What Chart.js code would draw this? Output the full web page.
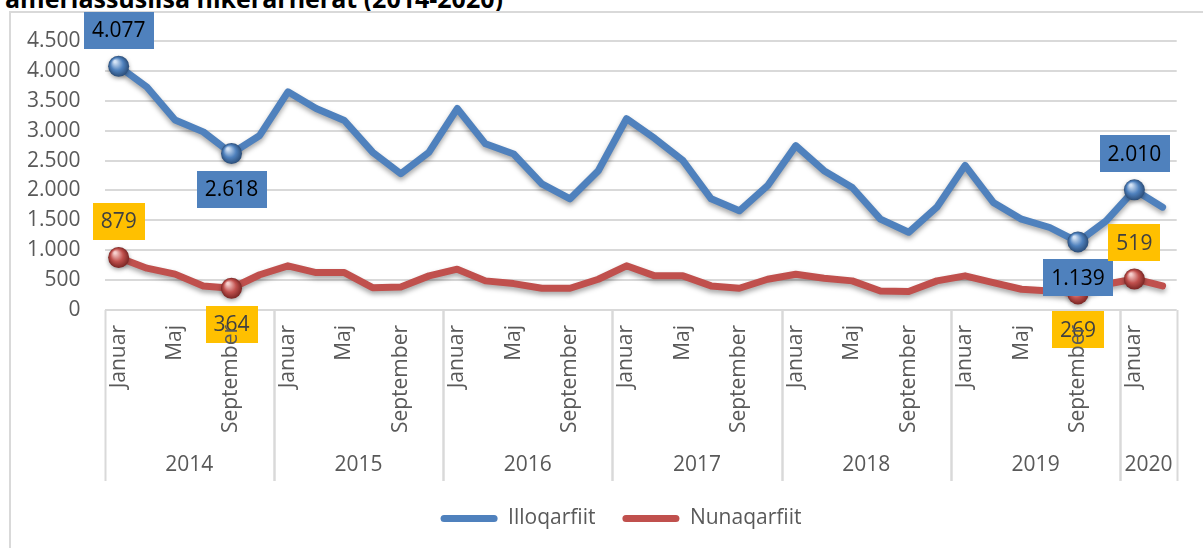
<!DOCTYPE html>
<html>
<head>
<meta charset="utf-8">
<script src="https://cdn.jsdelivr.net/npm/chart.js@4.4.1/dist/chart.umd.min.js"></script>
<style>
  html, body { margin: 0; padding: 0; background: #fff; overflow: hidden; }
  body { width: 1203px; height: 548px; position: relative; }
  #title { position: absolute; left: 5px; top: -19px; font: bold 25px "Open Sans", sans-serif; color: #000; white-space: nowrap; }
  #frame { position: absolute; left: 9px; top: 11px; width: 1400px; height: 800px; border: 2px solid #d9d9d9; }
  #c { position: absolute; left: 0; top: 0; }
</style>
</head>
<body>
<div id="title">ameriassusiisa nikerarnerat (2014-2020)</div>
<div id="frame"></div>
<canvas id="c" width="1203" height="548"></canvas>
<script>
// ─── DATA ─────────────────────────────────────────────────────────────────────
const YEARS = ['2014', '2015', '2016', '2017', '2018', '2019', '2020'];
const YEAR_POINTS = [6, 6, 6, 6, 6, 6, 2];   // bimonthly points per year
const MONTHS = ['Januar', 'Marts', 'Maj', 'Juli', 'September', 'November'];

const ILLOQARFIIT = [
  4077, 3730, 3180, 2980, 2618, 2920,
  3650, 3370, 3170, 2640, 2280, 2640,
  3370, 2780, 2610, 2110, 1860, 2330,
  3200, 2870, 2500, 1860, 1660, 2080,
  2750, 2330, 2050, 1520, 1300, 1720,
  2420, 1800, 1520, 1380, 1139, 1490,
  2010, 1720
];
const NUNAQARFIIT = [
  879, 700, 600, 403, 364, 590,
  739, 626, 626, 374, 386, 571,
  683, 487, 442, 364, 364, 515,
  739, 571, 571, 403, 364, 515,
  599, 532, 487, 319, 308, 487,
  571, 459, 347, 319, 269, 431,
  519, 403
];

// points that carry a marker + value box, and which side the box sits on (-1 above, 1 below)
const LABEL_INDEX = [0, 4, 34, 36];
const LABEL_SIDE  = [-1, 1, 1, -1];

const Y_TICKS = { min: 0, max: 4500, step: 500 };

// category labels: month of each point
const CATEGORIES = [];
YEARS.forEach((y, k) => {
  for (let m = 0; m < YEAR_POINTS[k]; m++) CATEGORIES.push(MONTHS[m]);
});

const BLUE = '#4f81bd';
const RED = '#c0504d';
const ORANGE = '#ffc000';
const GRID = '#d9d9d9';
const TEXT = '#595959';
const FONT = '"Open Sans", sans-serif';

const fmtNum = v => String(Math.round(v)).replace(/\B(?=(\d{3})+(?!\d))/g, '.');

// ─── PLUGINS ──────────────────────────────────────────────────────────────────
// line shadow like the Excel "outer shadow" effect
const lineShadow = {
  id: 'lineShadow',
  beforeDatasetDraw(chart) {
    const ctx = chart.ctx;
    ctx.save();
    ctx.shadowColor = 'rgba(0,0,0,0.35)';
    ctx.shadowBlur = 5;
    ctx.shadowOffsetY = 3;
  },
  afterDatasetDraw(chart) { chart.ctx.restore(); }
};

// legend sits a little right of centre in the original
const legendNudge = {
  id: 'legendNudge',
  afterLayout(chart) {
    if (!chart.legend) return;
    chart.legend.left += 26;
    chart.legend.right += 26;
  }
};

// year groups under the month ticks
const yearAxis = {
  id: 'yearAxis',
  beforeDatasetsDraw(chart) {
    const x = chart.scales.x, ctx = chart.ctx;
    const step = x.getPixelForValue(1) - x.getPixelForValue(0);
    const top = chart.chartArea.bottom, bottom = x.bottom;
    ctx.save();
    ctx.strokeStyle = GRID;
    ctx.lineWidth = 2;
    ctx.fillStyle = TEXT;
    ctx.font = '21px ' + FONT;
    ctx.textAlign = 'center';
    ctx.textBaseline = 'middle';
    let start = 0;
    YEARS.forEach((y, k) => {
      const end = start + YEAR_POINTS[k];
      const x0 = x.getPixelForValue(start) - step / 2;
      const x1 = x.getPixelForValue(end - 1) + step / 2;
      [x0, x1].forEach(px => {
        ctx.beginPath();
        ctx.moveTo(Math.round(px) + 0.5, top);
        ctx.lineTo(Math.round(px) + 0.5, bottom);
        ctx.stroke();
      });
      ctx.fillText(y, (x0 + x1) / 2, bottom - 16);
      start = end;
    });
    ctx.restore();
  }
};

function sphere(ctx, x, y, r, light, base, dark) {
  const g = ctx.createRadialGradient(x - r * 0.35, y - r * 0.45, r * 0.1, x, y, r);
  g.addColorStop(0, light);
  g.addColorStop(0.55, base);
  g.addColorStop(1, dark);
  ctx.fillStyle = g;
  ctx.beginPath();
  ctx.arc(x, y, r, 0, Math.PI * 2);
  ctx.fill();
}

const SERIES_STYLE = [
  { light: '#d4e3f5', base: BLUE, dark: '#2b4d78', box: BLUE, text: '#000000' },
  { light: '#f6cfcd', base: RED, dark: '#7a2624', box: ORANGE, text: '#404040' }
];

// markers and value boxes on the highlighted points
const pointLabels = {
  id: 'pointLabels',
  afterDatasetsDraw(chart) {
    const ctx = chart.ctx;
    chart.data.datasets.forEach((ds, d) => {
      const meta = chart.getDatasetMeta(d);
      const st = SERIES_STYLE[d];
      LABEL_INDEX.forEach(i => {
        const p = meta.data[i];
        ctx.save();
        ctx.shadowColor = 'rgba(0,0,0,0.35)';
        ctx.shadowBlur = 4;
        ctx.shadowOffsetY = 2;
        sphere(ctx, p.x, p.y, 10.5, st.light, st.base, st.dark);
        ctx.restore();
      });
    });
    chart.data.datasets.forEach((ds, d) => {
      const meta = chart.getDatasetMeta(d);
      const st = SERIES_STYLE[d];
      LABEL_INDEX.forEach((i, k) => {
        const p = meta.data[i];
        const txt = fmtNum(ds.data[i]);
        ctx.save();
        ctx.font = '21px ' + FONT;
        const w = ctx.measureText(txt).width + 16;
        const h = 37;
        const cy = p.y + LABEL_SIDE[k] * 36;
        ctx.fillStyle = st.box;
        ctx.fillRect(Math.round(p.x - w / 2), Math.round(cy - h / 2), Math.round(w), h);
        ctx.fillStyle = st.text;
        ctx.textAlign = 'center';
        ctx.textBaseline = 'middle';
        ctx.fillText(txt, p.x, cy + 1);
        ctx.restore();
      });
    });
  }
};

// ─── CHART ────────────────────────────────────────────────────────────────────
Chart.defaults.font.family = FONT;
Chart.defaults.font.size = 21;
Chart.defaults.color = TEXT;

new Chart(document.getElementById('c'), {
  type: 'line',
  data: {
    labels: CATEGORIES,
    datasets: [
      { label: 'Illoqarfiit', data: ILLOQARFIIT, borderColor: BLUE, backgroundColor: BLUE },
      { label: 'Nunaqarfiit', data: NUNAQARFIIT, borderColor: RED, backgroundColor: RED }
    ]
  },
  options: {
    responsive: false,
    animation: false,
    layout: { padding: { top: 41, right: 16, left: 3, bottom: 9 } },
    elements: {
      line: { borderWidth: 7, tension: 0, borderJoinStyle: 'round', borderCapStyle: 'round' },
      point: { radius: 0, hoverRadius: 0 }
    },
    plugins: {
      legend: {
        position: 'bottom',
        labels: {
          boxWidth: 57,
          boxHeight: 7,
          useBorderRadius: true,
          borderRadius: 3.5,
          padding: 27,
          color: TEXT,
          font: { size: 21 },
          generateLabels: chart => Chart.defaults.plugins.legend.labels.generateLabels(chart)
            .map(l => ({ ...l, fillStyle: l.strokeStyle, lineWidth: 0 }))
        }
      },
      tooltip: { enabled: false }
    },
    scales: {
      x: {
        offset: true,
        grid: { display: false, drawTicks: false },
        border: { display: false },
        afterFit: s => { s.height = 171; },
        ticks: {
          z: 1,
          autoSkip: false,
          minRotation: 90,
          maxRotation: 90,
          padding: 15,
          color: TEXT,
          callback: (v, i) => (i % 2 === 0 ? CATEGORIES[i] : '')
        }
      },
      y: {
        min: Y_TICKS.min,
        max: Y_TICKS.max,
        grid: { color: GRID, lineWidth: 2, drawTicks: false },
        border: { display: false },
        ticks: { stepSize: Y_TICKS.step, padding: 24, color: TEXT, callback: v => fmtNum(v) }
      }
    }
  },
  plugins: [lineShadow, legendNudge, yearAxis, pointLabels]
});
</script>
</body>
</html>
